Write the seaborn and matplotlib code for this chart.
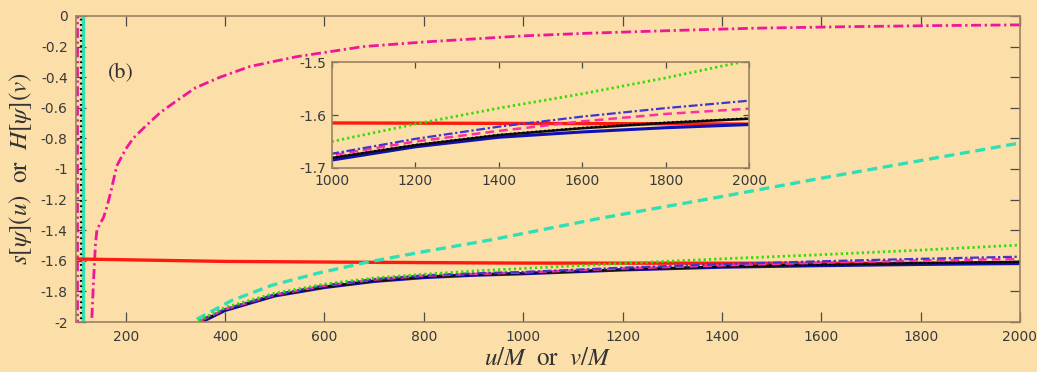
import numpy as np
import pandas as pd
import matplotlib
matplotlib.use("Agg")
import matplotlib.pyplot as plt
import seaborn as sns

# ---------------- data ----------------
# upper magenta dash-dot curve
mag_dd_x = [130.5, 131.5, 135, 139, 142, 148, 155, 162, 170, 182, 200, 215, 240, 270, 300, 340,
            390, 450, 544, 678, 800, 1000, 1128, 1300, 1463, 1650, 1825, 2000]
mag_dd_y = [-2.10, -2.0, -1.75, -1.50, -1.40, -1.36, -1.32, -1.25, -1.15, -0.98, -0.87, -0.80, -0.72,
            -0.63, -0.56, -0.47, -0.40, -0.33, -0.266, -0.20, -0.17, -0.13, -0.113, -0.095, -0.08,
            -0.07, -0.063, -0.058]
# near-vertical plunges at small u/M
plunge_mag_x = [101.2, 101.2]
plunge_mag_y = [0.05, -2.05]
plunge_blk_x = [111.0, 111.0]
plunge_blk_y = [0.05, -2.05]
plunge_cyan_x = [113.5, 113.5]
plunge_cyan_y = [0.05, -2.05]

# red solid
red_x = [100, 400, 700, 1000, 1500, 2000]
red_y = [-1.588, -1.604, -1.610, -1.615, -1.616, -1.617]

# cyan dashed
cyan_x = [325, 333, 413, 494, 588, 685, 800, 934, 1155, 1400, 1600, 1800, 2000]
cyan_y = [-2.06, -2.0, -1.86, -1.76, -1.68, -1.61, -1.54, -1.464, -1.322, -1.18, -1.06, -0.945, -0.83]

cluster_x = [340, 350, 400, 500, 600, 700, 800, 900, 1000, 1200, 1400, 1600, 1800, 2000]
green_y = [-2.06, -1.985, -1.905, -1.812, -1.752, -1.712, -1.688, -1.667, -1.650, -1.617, -1.587,
           -1.560, -1.530, -1.497]
dashdot_blue_y = [-2.07, -1.99, -1.915, -1.820, -1.760, -1.720, -1.695, -1.682, -1.673, -1.645,
                  -1.622, -1.603, -1.587, -1.573]
mag_dash_y = [-2.075, -1.993, -1.917, -1.822, -1.763, -1.723, -1.698, -1.686, -1.676, -1.650,
              -1.630, -1.612, -1.598, -1.588]
black_y = [-2.09, -2.0, -1.920, -1.825, -1.770, -1.730, -1.705, -1.690, -1.681, -1.657, -1.638,
           -1.625, -1.615, -1.607]
black_dot_y = [-2.088, -1.998, -1.919, -1.824, -1.769, -1.729, -1.704, -1.689, -1.680, -1.656,
               -1.637, -1.624, -1.614, -1.606]
blue_y = [-2.095, -2.005, -1.925, -1.830, -1.775, -1.735, -1.710, -1.695, -1.685, -1.660, -1.642,
          -1.632, -1.624, -1.618]

main_xticks = [200, 400, 600, 800, 1000, 1200, 1400, 1600, 1800, 2000]
main_yticks = [-2, -1.8, -1.6, -1.4, -1.2, -1, -0.8, -0.6, -0.4, -0.2, 0]
main_ytick_labels = ["-2", "-1.8", "-1.6", "-1.4", "-1.2", "-1", "-0.8", "-0.6", "-0.4", "-0.2", "0"]
inset_xticks = [1000, 1200, 1400, 1600, 1800, 2000]
inset_yticks = [-1.7, -1.6, -1.5]
inset_ytick_labels = ["-1.7", "-1.6", "-1.5"]

# ---------------- styling ----------------
BG = "#FCDFA8"
SPINE = "#9C8264"
TXT = "#3a3a3a"

sns.set_theme(style="ticks")
plt.rcParams["font.family"] = ["DejaVu Sans"]
plt.rcParams["mathtext.fontset"] = "stix"

fig = plt.figure(figsize=(10.37, 3.72), dpi=100, facecolor=BG)
ax = fig.add_axes([0.0733, 0.1344, 0.9103, 0.8226])
axin = fig.add_axes([0.3202, 0.5484, 0.4021, 0.2849])

MAG_DD = (0, (3.6, 1.3, 0.8, 1.3))
styles = [
    # (name, x, y, color, lw, linestyle)
    ("red", red_x, red_y, "#FF1A10", 2.4, "-"),
    ("cyan", cyan_x, cyan_y, "#2FE0B4", 2.4, (0, (3.0, 1.7))),
    ("blue", cluster_x, blue_y, "#1010B8", 2.2, "-"),
    ("black", cluster_x, black_y, "#101010", 1.8, "-"),
    ("blackdot", cluster_x, black_dot_y, "#000000", 1.4, (0, (0.8, 1.4))),
    ("magdash", cluster_x, mag_dash_y, "#FF2FA0", 1.8, (0, (3.5, 2.0))),
    ("dashdot", cluster_x, dashdot_blue_y, "#3F35D0", 1.6, (0, (4.0, 1.2, 1.0, 1.2))),
    ("green", cluster_x, green_y, "#33DD00", 2.0, (0, (0.8, 1.1))),
]


def draw(a, with_extra):
    if with_extra:
        sns.lineplot(x=plunge_mag_x, y=plunge_mag_y, ax=a, color="#F0169A", lw=2.0,
                     linestyle=MAG_DD, sort=False, estimator=None)
        sns.lineplot(x=plunge_cyan_x, y=plunge_cyan_y, ax=a, color="#2FE0B4", lw=2.4,
                     sort=False, estimator=None)
        sns.lineplot(x=plunge_blk_x, y=plunge_blk_y, ax=a, color="#000000", lw=1.6,
                     linestyle=(0, (0.8, 1.6)), sort=False, estimator=None)
        sns.lineplot(x=mag_dd_x, y=mag_dd_y, ax=a, color="#F0169A", lw=2.0,
                     linestyle=MAG_DD, sort=False, estimator=None)
    for name, xs, ys, c, lw, ls in styles:
        sns.lineplot(x=xs, y=ys, ax=a, color=c, lw=lw, linestyle=ls, sort=False, estimator=None)


draw(ax, True)
draw(axin, False)

for a in (ax, axin):
    a.set_facecolor(BG)
    for s in a.spines.values():
        s.set_visible(True)
        s.set_color(SPINE)
        s.set_linewidth(1.2)
    a.tick_params(direction="in", top=True, right=True, colors="#4a4a4a",
                  labelcolor=TXT, labelsize=10, width=0.9)

ax.set_xlim(100, 2000)
ax.set_ylim(-2, 0)
ax.set_xticks(main_xticks)
ax.set_yticks(main_yticks)
ax.set_yticklabels(main_ytick_labels)
ax.tick_params(length=7, pad=6)
ax.set_xlabel(r"$u/M\ \ \mathrm{or}\ \ v/M$", fontsize=18, color="#333333", labelpad=1)
ax.set_ylabel(r"$s[\psi](u)\ \ \mathrm{or}\ \ H[\psi](v)$", fontsize=18, color="#333333", labelpad=5)
ax.text(0.034, 0.814, "(b)", transform=ax.transAxes, fontsize=16, family="STIXGeneral",
        color="#333333", va="center", ha="left")

axin.set_xlim(1000, 2000)
axin.set_ylim(-1.7, -1.5)
axin.set_xticks(inset_xticks)
axin.set_yticks(inset_yticks)
axin.set_yticklabels(inset_ytick_labels)
axin.tick_params(length=4, pad=4)
axin.set_xlabel("")
axin.set_ylabel("")

fig.savefig("out.png", dpi=100, facecolor=BG)
